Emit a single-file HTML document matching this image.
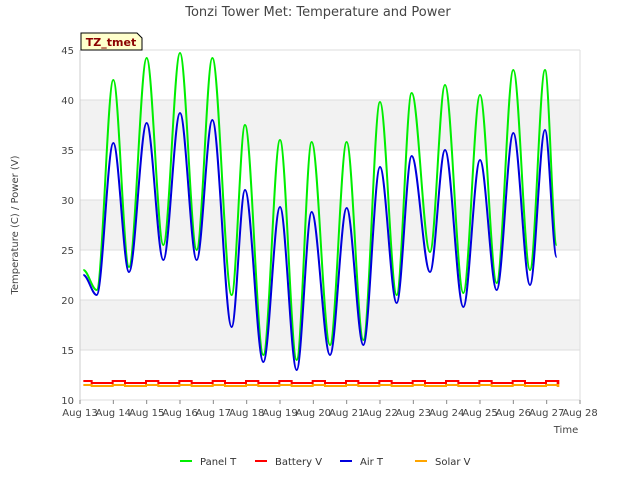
<!DOCTYPE html>
<html><head><meta charset="utf-8"><style>
body{margin:0;background:#fff;font-family:"Liberation Sans","DejaVu Sans",sans-serif}
</style></head><body>
<svg id="chart" width="640" height="480" xmlns="http://www.w3.org/2000/svg" style="font-family:'DejaVu Sans','Liberation Sans',sans-serif">
<text x="318" y="16" text-anchor="middle" font-size="13" fill="#444">Tonzi Tower Met: Temperature and Power</text>
<text transform="translate(18,225) rotate(-90)" text-anchor="middle" font-size="10" fill="#444">Temperature (C) / Power (V)</text>
<text x="566" y="433" text-anchor="middle" font-size="10" fill="#444">Time</text>
<g id="grid"></g>
<g id="series"></g>
<g>
<path d="M81,33 L137,33 L142,38 L142,50 L81,50 Z" fill="#ffffcc" stroke="#000" stroke-width="1"/>
<text x="111" y="46" text-anchor="middle" font-size="11" font-weight="bold" fill="#8b0000">TZ_tmet</text>
</g>
<g id="legend"></g>
</svg>
<script>
const xTicks=["Aug 13","Aug 14","Aug 15","Aug 16","Aug 17","Aug 18","Aug 19","Aug 20","Aug 21","Aug 22","Aug 23","Aug 24","Aug 25","Aug 26","Aug 27","Aug 28"];
const yTicks=[10,15,20,25,30,35,40,45];
const tPoints=[0.1,0.5,1.0,1.47,2.0,2.5,3.0,3.5,3.97,4.55,4.95,5.5,6.0,6.5,6.95,7.5,8.0,8.5,9.0,9.5,9.95,10.5,10.95,11.5,12.0,12.5,13.0,13.5,13.95,14.3];
const panelT=[23,21,42,23.3,44.2,25.5,44.7,25,44.2,20.5,37.5,14.5,36,14,35.8,15.5,35.8,16,39.8,20.5,40.7,24.8,41.5,20.7,40.5,21.7,43,23,43,25.5];
const airT=[22.5,20.5,35.7,22.8,37.7,24,38.7,24,38,17.3,31,13.8,29.3,13,28.8,14.5,29.2,15.5,33.3,19.7,34.4,22.8,35,19.3,34,21,36.7,21.5,37,24.3];
const stepDays=[0,1,2,3,4,5,6,7,8,9,10,11,12,13,14];
const batteryHigh=[11.9,11.9,11.9,11.9,11.9,11.9,11.9,11.9,11.9,11.9,11.9,11.9,11.9,11.9,11.9];
const batteryLow=[11.7,11.7,11.7,11.7,11.7,11.7,11.7,11.7,11.7,11.7,11.7,11.7,11.7,11.7,11.7];
const solarHigh=[11.5,11.5,11.5,11.5,11.5,11.5,11.5,11.5,11.5,11.5,11.5,11.5,11.5,11.5,11.5];
const solarLow=[11.4,11.4,11.4,11.4,11.4,11.4,11.4,11.4,11.4,11.4,11.4,11.4,11.4,11.4,11.4];

const X0=80,X1=580,Y0=400,Y1=50;
const xs=d=>X0+(X1-X0)*d/15;
const ys=v=>Y0-(Y0-Y1)*(v-10)/35;
const NS="http://www.w3.org/2000/svg";
function mk(tag,attrs,parent){const e=document.createElementNS(NS,tag);for(const k in attrs)e.setAttribute(k,attrs[k]);parent.appendChild(e);return e;}
const grid=document.getElementById('grid');
[[15,20],[25,30],[35,40]].forEach(b=>{
 const r=mk('rect',{x:X0,y:ys(b[1]),width:X1-X0,height:ys(b[0])-ys(b[1]),fill:'#f2f2f2'},grid);
 
 
});
yTicks.forEach(v=>{
 const l=mk('line',{x1:X0,x2:X1,y1:ys(v),y2:ys(v),stroke:'#ddd'},grid);
 
 
 const t=mk('text',{x:X0-6,y:ys(v)+4,'text-anchor':'end','font-size':10,fill:'#444'},grid);
 t.textContent=v;
 
 
});
mk('line',{x1:X0,x2:X0,y1:Y1,y2:Y0,stroke:'#ccc'},grid);
mk('line',{x1:X1,x2:X1,y1:Y1,y2:Y0,stroke:'#ddd'},grid);
xTicks.forEach((s,i)=>{
 const l=mk('line',{x1:xs(i),x2:xs(i),y1:Y0,y2:Y0+4,stroke:'#888'},grid);
 
 
 const t=mk('text',{x:xs(i),y:Y0+16,'text-anchor':'middle','font-size':10,fill:'#444'},grid);
 t.textContent=s;
 
 
});
const g=document.getElementById('series');
function smooth(ts,vs){let d='M'+xs(ts[0])+','+ys(vs[0]);
 for(let i=1;i<ts.length;i++){const xa=xs(ts[i-1]),xb=xs(ts[i]),m=(xb-xa)*0.35;
  d+=' C'+(xa+m)+','+ys(vs[i-1])+' '+(xb-m)+','+ys(vs[i])+' '+xb+','+ys(vs[i]);}
 return d;}
function steps(hi,lo){let d='';
 stepDays.forEach((day,i)=>{if(day>=14.3)return;
  const a=Math.max(day-0.02,0.1),b=day+0.35,c=Math.min(day+0.98,14.3);
  d+=(i?' L':'M')+xs(a)+','+ys(hi[i])+' L'+xs(b)+','+ys(hi[i])+' L'+xs(b)+','+ys(lo[i])+' L'+xs(c)+','+ys(lo[i]);});
 return d;}
const sol=mk('path',{d:steps(solarHigh,solarLow),fill:'none',stroke:'#ffa500','stroke-width':2},g);


const bat=mk('path',{d:steps(batteryHigh,batteryLow),fill:'none',stroke:'#ff0000','stroke-width':2},g);


const pan=mk('path',{d:smooth(tPoints,panelT),fill:'none',stroke:'#00ee00','stroke-width':2},g);


const air=mk('path',{d:smooth(tPoints,airT),fill:'none',stroke:'#0000dd','stroke-width':2},g);


const lg=document.getElementById('legend');
[["Panel T","#00ee00",180],["Battery V","#ff0000",255],["Air T","#0000dd",340],["Solar V","#ffa500",415]].forEach(e=>{
 const gg=mk('g',{},lg);
 
 
 mk('line',{x1:e[2],x2:e[2]+12,y1:461,y2:461,stroke:e[1],'stroke-width':2},gg);
 const t=mk('text',{x:e[2]+20,y:465,'font-size':10,fill:'#333'},gg);
 t.textContent=e[0];
});
</script>
</body></html>
